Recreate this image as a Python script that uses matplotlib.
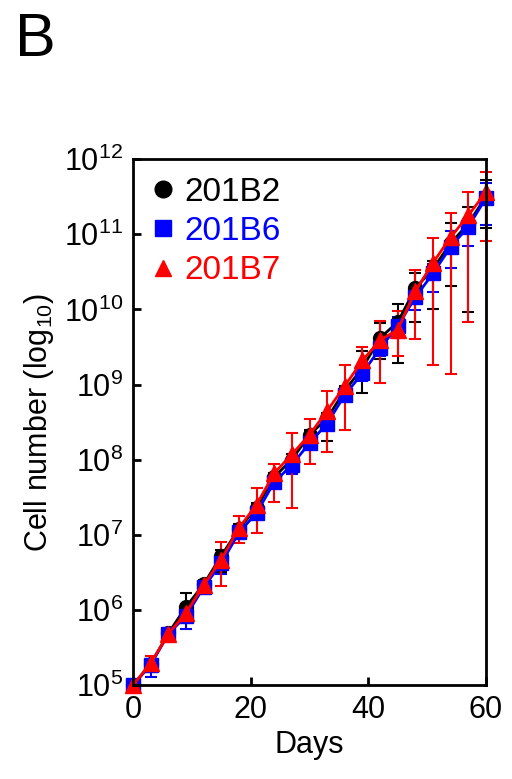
import numpy as np
import matplotlib
matplotlib.use("Agg")
import matplotlib.pyplot as plt
from matplotlib.lines import Line2D

plt.rcParams['font.family'] = ['Liberation Sans', 'DejaVu Sans']
plt.rcParams['mathtext.fontset'] = 'custom'
plt.rcParams['mathtext.rm'] = 'Liberation Sans'
plt.rcParams['mathtext.it'] = 'Liberation Sans'

#***********************************************
# data (log10 of cell number)
days = [0, 3, 6, 9, 12, 15, 18, 21, 24, 27, 30, 33, 36, 39, 42, 45, 48, 51, 54, 57, 60]

b2_mean = [5.0, 5.28, 5.69, 6.04, 6.34, 6.72, 7.08, 7.36, 7.77, 8.0, 8.33, 8.55, 8.92, 9.22, 9.62, 9.83, 10.28, 10.54, 10.88, 11.14, 11.5]
b2_hi = [5.0, 5.33, 5.72, 6.23, 6.4, 6.8, 7.14, 7.42, 7.82, 8.08, 8.4, 8.62, 8.98, 9.45, 9.82, 10.07, 10.48, 10.65, 11.15, 11.36, 11.72]
b2_lo = [5.0, 5.22, 5.66, 5.95, 6.28, 6.5, 7.02, 7.28, 7.7, 7.9, 8.25, 8.25, 8.8, 8.89, 9.34, 9.28, 9.83, 10.0, 10.31, 9.96, 11.08]

b6_mean = [5.0, 5.27, 5.68, 5.92, 6.30, 6.62, 7.03, 7.29, 7.70, 7.93, 8.22, 8.48, 8.86, 9.15, 9.48, 9.78, 10.16, 10.48, 10.83, 11.1, 11.48]
b6_hi = [5.0, 5.32, 5.71, 5.98, 6.34, 6.68, 7.08, 7.34, 7.75, 7.98, 8.28, 8.53, 8.92, 9.22, 9.6, 9.9, 10.25, 10.6, 11.05, 11.2, 11.68]
b6_lo = [5.0, 5.11, 5.64, 5.74, 6.25, 6.48, 6.98, 7.22, 7.62, 7.81, 8.16, 8.42, 8.8, 9.05, 9.38, 9.62, 9.99, 10.23, 10.55, 10.84, 11.13]

b7_mean = [5.0, 5.29, 5.68, 5.96, 6.33, 6.67, 7.09, 7.40, 7.82, 8.07, 8.33, 8.65, 8.98, 9.32, 9.59, 9.73, 10.24, 10.62, 10.96, 11.25, 11.56]
b7_hi = [5.0, 5.38, 5.72, 6.02, 6.38, 6.9, 7.25, 7.62, 7.94, 8.35, 8.54, 8.91, 9.26, 9.5, 9.84, 9.98, 10.52, 10.95, 11.28, 11.56, 11.83]
b7_lo = [5.0, 5.17, 5.64, 5.87, 6.28, 6.32, 6.89, 7.02, 7.44, 7.35, 7.94, 8.1, 8.39, 9.06, 9.02, 9.38, 9.6, 9.26, 9.14, 9.83, 10.91]

names = ['201B2', '201B6', '201B7']
colors = ['black', 'blue', 'red']
markers = ['o', 's', '^']

#***********************************************
fig = plt.figure(figsize=(5.12, 7.79), dpi=100)
ax = fig.add_axes([0.26, 0.1207, 0.689, 0.675])

series = [(b2_mean, b2_hi, b2_lo), (b6_mean, b6_hi, b6_lo), (b7_mean, b7_hi, b7_lo)]
for (m, hi, lo), c, mk in zip(series, colors, markers):
   m = np.array(m); hi = np.array(hi); lo = np.array(lo)
   y = 10 ** m
   yerr = [y - 10 ** lo, 10 ** hi - y]
   ax.errorbar(days, y, yerr=yerr, color=c, marker=mk, markersize=10 if mk != '^' else 11.5,
               linewidth=2, elinewidth=1.5, capsize=4, capthick=1.5, clip_on=False)

ax.set_yscale('log')
ax.set_xlim(0, 60)
ax.set_ylim(1e5, 1e12)
ax.set_xticks([0, 20, 40, 60])
ax.set_yticks([10.0 ** k for k in range(5, 13)])
ax.set_yticklabels([r'$10^{%d}$' % k for k in range(5, 13)])
ax.yaxis.set_minor_locator(matplotlib.ticker.NullLocator())
ax.tick_params(direction='in', length=6, width=2, labelsize=22, pad=7)
for s in ax.spines.values():
   s.set_linewidth(2)

ax.set_xlabel('Days', fontsize=22, labelpad=4)
ax.set_ylabel(r'Cell number (log$_{10}$)', fontsize=22, labelpad=6)

handles = [Line2D([], [], color=c, marker=mk, linestyle='none', markersize=12) for c, mk in zip(colors, markers)]
leg = ax.legend(handles, names, loc='upper left', bbox_to_anchor=(-0.02, 1.005), frameon=False, fontsize=24,
                handletextpad=0.15, labelspacing=0.25, borderaxespad=0.2, handlelength=1.0)
for t, c in zip(leg.get_texts(), colors):
   t.set_color(c)

fig.text(0.03, 0.985, 'B', fontsize=44, va='top', ha='left')

fig.savefig('out.png', dpi=100)
